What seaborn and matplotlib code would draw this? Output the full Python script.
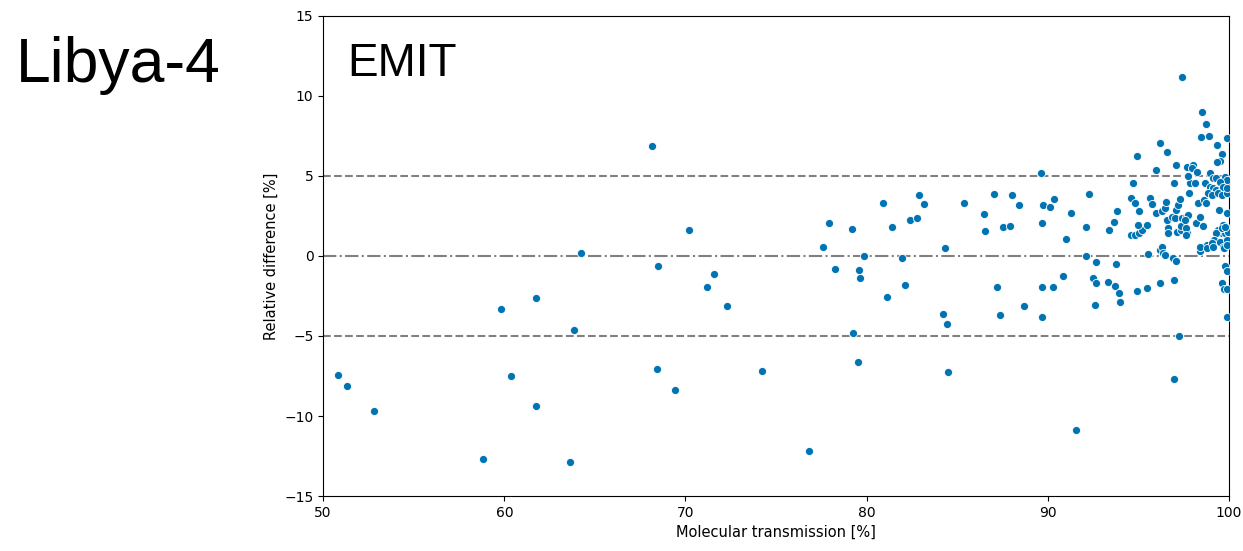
import matplotlib
matplotlib.use("Agg")
import matplotlib.pyplot as plt
import seaborn as sns
import pandas as pd

# Molecular transmission [%]
transmission = [
    50.8, 51.3, 52.8, 58.8, 59.8, 60.36, 61.77, 61.77, 63.65, 63.85, 64.24,
    68.14, 68.5, 70.2, 71.58, 71.2, 72.28, 68.45, 69.43, 74.2, 76.84,
    77.6, 77.93, 78.28, 79.19, 79.56, 79.64, 79.86, 80.9, 81.4, 81.97, 82.4, 82.76, 82.9, 83.18,
    81.1, 82.12, 79.27, 79.54,
    84.33, 84.23, 84.45, 84.51,
    85.4, 86.46, 86.55, 87.05, 87.2, 87.35, 87.55, 87.9, 88.04, 88.41, 88.69,
    89.6, 89.7, 89.75, 89.7, 89.7, 90.12, 90.27, 90.34, 90.84, 91.02, 91.26, 91.54,
    92.1, 92.27, 92.1, 92.68, 92.48, 92.68, 92.6,
    93.34, 93.4, 93.67, 93.69, 93.76, 93.82, 93.91, 93.98,
    94.59, 94.72, 94.9, 94.81, 95.03,
    94.62, 94.8, 95.05, 95.18, 94.99, 95.45,
    94.9, 95.47, 95.53,
    95.64, 95.75, 95.97, 96.17, 96.6, 97.1, 96.96,
    96.0, 96.28, 96.46, 96.5,
    96.2, 96.28, 96.34, 96.46,
    96.17,
    96.56, 96.84, 97.0, 96.65, 96.65,
    96.93, 97.06, 96.96, 97.24, 96.96,
    97.1, 97.2, 97.3, 97.15, 97.37, 97.37, 97.4,
    97.39, 97.63, 97.76, 97.6, 97.66, 97.65, 97.65, 97.81, 97.85, 98.1, 97.66, 98.03, 97.94, 97.76,
    98.18, 98.4, 98.58, 98.3, 98.6, 98.73,
    98.4, 98.8, 98.4, 98.77,
    98.25, 98.53, 98.73, 98.45, 98.9, 98.95, 98.67,
    99.32, 99.6, 99.5, 99.32, 99.87,
    99.78, 99.87, 99.1, 99.3, 99.48,
    98.95, 99.1, 99.3, 99.6, 99.65,
    98.86, 99.05, 99.4, 99.6, 99.87, 99.87,
    99.45, 99.87,
    99.65, 99.87, 99.4, 99.6, 99.3, 99.78, 99.96, 99.6, 99.78,
    99.2, 99.48, 99.87, 99.05, 99.1, 99.65, 99.72, 99.87,
    99.78, 99.87, 99.6, 99.72, 99.9, 99.87,
]

# Relative difference [%]
rel_diff = [
    -7.42, -8.15, -9.7, -12.7, -3.3, -7.5, -2.65, -9.36, -12.9, -4.6, 0.17,
    6.9, -0.63, 1.63, -1.12, -1.92, -3.12, -7.08, -8.37, -7.17, -12.19,
    0.58, 2.04, -0.79, 1.71, -0.875, -1.4, 0.0, 3.33, 1.79, -0.15, 2.27, 2.35, 3.81, 3.25,
    -2.56, -1.83, -4.81, -6.6,
    0.5, -3.63, -4.27, -7.27,
    3.33, 2.6, 1.56, 3.9, -1.92, -3.71, 1.81, 1.9, 3.81, 3.17, -3.15,
    5.21, 2.04, 3.17, -1.92, -3.79, 3.08, -1.92, 3.58, -1.27, 1.06, 2.69, -10.9,
    1.81, 3.9, 0.02, -0.4, -1.35, -1.69, -3.06,
    -1.6, 1.63, 2.1, -1.85, -0.48, 2.83, -2.33, -2.9,
    3.65, 4.54, 6.23, 3.33, 2.83,
    1.31, 1.31, 1.42, 1.63, 1.94, 1.94,
    -2.2, -2.0, 0.1,
    3.6, 3.25, 5.37, 7.04, 6.48, 5.67, 4.54,
    2.67, 2.83, 2.98, 3.4,
    0.375, 0.54, 0.17, 0.06,
    -1.71,
    2.25, 2.46, 2.35, 1.73, 1.42,
    -0.15, -0.3, -1.5, -4.98, -7.67,
    2.88, 3.19, 3.54, 1.52, 1.63, 1.88, 2.35,
    11.17, 2.46, 2.56, 2.25, 1.42, 1.73, 1.31, 3.96, 4.54, 4.54, 5.58, 5.69, 5.48, 5.0,
    2.04, 2.46, 1.88, 3.29, 3.5, 3.29,
    0.33, 0.69, 0.58, 0.48,
    5.27, 8.98, 8.27, 7.46, 7.52, 5.17, 4.54,
    6.94, 6.4, 5.96, 5.9, 7.35,
    4.96, 4.75, 4.85, 4.85, 4.65,
    4.33, 4.23, 4.13, 4.13, 4.33,
    3.92, 3.81, 3.92, 3.81, 3.92, 4.23,
    2.9, 2.7,
    1.94, 1.73, 1.63, 1.42, 1.42, 1.42, 1.52, 1.73, 1.83,
    1.0, 0.9, 1.0, 0.79, 0.58, 0.58, 0.52, 0.69,
    -0.63, -0.94, -1.69, -2.08, -2.08, -3.79,
]

x_ticks = [50, 60, 70, 80, 90, 100]
y_ticks = [-15, -10, -5, 0, 5, 10, 15]
ref_lines = [5, 0, -5]

df = pd.DataFrame({"transmission": transmission, "rel_diff": rel_diff})

fig = plt.figure(figsize=(12.43, 5.51), dpi=100)
ax = fig.add_axes([0.26, 0.0998, 0.7287, 0.8712])

blue = sns.color_palette("colorblind")[0]
sns.scatterplot(data=df, x="transmission", y="rel_diff", ax=ax, color=blue,
                s=34, edgecolor="white", linewidth=0.6, zorder=3)

ax.axhline(ref_lines[0], color="gray", linestyle="--", linewidth=1.5, zorder=1)
ax.axhline(ref_lines[1], color="gray", linestyle="-.", linewidth=1.5, zorder=1)
ax.axhline(ref_lines[2], color="gray", linestyle="--", linewidth=1.5, zorder=1)

ax.set_xlim(50, 100)
ax.set_ylim(-15, 15)
ax.set_xticks(x_ticks)
ax.set_yticks(y_ticks)
ax.tick_params(labelsize=10)
ax.set_xlabel("Molecular transmission [%]", fontsize=10.5)
ax.set_ylabel("Relative difference [%]", fontsize=10.5)

ax.text(0.027, 0.875, "EMIT", transform=ax.transAxes, fontsize=33,
        family="Liberation Sans", ha="left", va="baseline")
fig.text(0.013, 0.851, "Libya-4", fontsize=45, family="Liberation Sans",
         ha="left", va="baseline")

fig.savefig("out.png", dpi=100)
